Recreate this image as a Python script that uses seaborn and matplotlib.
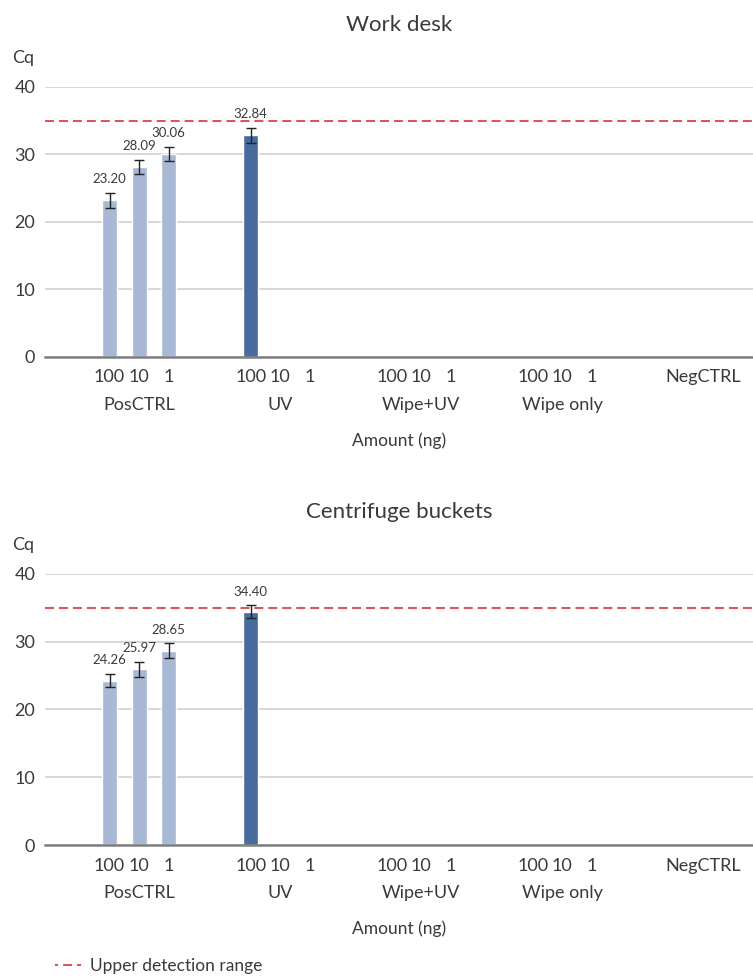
import numpy as np
import pandas as pd
import matplotlib
matplotlib.use("Agg")
import matplotlib.pyplot as plt
import seaborn as sns
from matplotlib.lines import Line2D

# ---- data (Cq values, NaN = no amplification) ----
GROUPS = ["PosCTRL", "UV", "Wipe+UV", "Wipe only", "NegCTRL"]
AMOUNTS = ["100", "10", "1"]
UPPER_DETECTION = 35

desk_posctrl = [23.20, 28.09, 30.06]
desk_posctrl_sd = [1.1, 1.05, 1.05]
desk_uv = [32.84, np.nan, np.nan]
desk_uv_sd = [1.1, np.nan, np.nan]

centrifuge_posctrl = [24.26, 25.97, 28.65]
centrifuge_posctrl_sd = [1.0, 1.1, 1.1]
centrifuge_uv = [34.40, np.nan, np.nan]
centrifuge_uv_sd = [0.95, np.nan, np.nan]

LIGHT = "#a9b8d4"
DARK = "#476b9c"
RED = "#d9575a"
TEXT = "#3a3a3a"

BAR_SPAN = 0.63  # width of one dodged cluster
SLOT = BAR_SPAN / len(AMOUNTS)

sns.set_theme(style="white")
plt.rcParams["font.family"] = ["Lato", "DejaVu Sans"]
plt.rcParams["text.color"] = TEXT
plt.rcParams["axes.labelcolor"] = TEXT
plt.rcParams["xtick.color"] = TEXT
plt.rcParams["ytick.color"] = TEXT


def make_frame(posctrl, posctrl_sd, uv, uv_sd):
    rows = []
    for a, v, s in zip(AMOUNTS, posctrl, posctrl_sd):
        rows.append(("PosCTRL", a, v, s))
    for a, v, s in zip(AMOUNTS, uv, uv_sd):
        rows.append(("UV", a, v, s))
    return pd.DataFrame(rows, columns=["group", "amount", "cq", "sd"])


def draw_panel(ax, df, title):
    for grp, col in [("PosCTRL", LIGHT), ("UV", DARK)]:
        sub = df[df["group"] == grp].dropna(subset=["cq"])
        sns.barplot(data=sub, x="group", y="cq", hue="amount",
                    order=GROUPS, hue_order=AMOUNTS,
                    palette={a: col for a in AMOUNTS}, saturation=1,
                    dodge=True, width=BAR_SPAN, gap=0.49, errorbar=None,
                    edgecolor="white", linewidth=1, legend=False,
                    zorder=2, ax=ax)

    # error bars + value labels, matched to the drawn bars
    for p in ax.patches:
        h = p.get_height()
        if not np.isfinite(h) or h <= 0:
            continue
        xc = p.get_x() + p.get_width() / 2
        gi = int(round(xc))
        ai = int(round((xc - gi) / SLOT)) + 1
        row = df[(df["group"] == GROUPS[gi]) & (df["amount"] == AMOUNTS[ai])].iloc[0]
        ax.errorbar(xc, row["cq"], yerr=row["sd"], fmt="none", ecolor="#222222",
                    elinewidth=1, capsize=3.5, capthick=1, zorder=3)
        ax.annotate(f"{row['cq']:.2f}", (xc, row["cq"] + row["sd"]),
                    xytext=(0, 10), textcoords="offset points",
                    ha="center", va="center", fontsize=9.5, color=TEXT)

    ax.axhline(UPPER_DETECTION, color=RED, lw=1.5, dashes=(4.3, 2.4), zorder=4)

    ax.set_ylim(0, 40)
    ax.set_xlim(-0.667, 4.35)
    ax.set_yticks([0, 10, 20, 30, 40])
    ax.yaxis.grid(True, color="#d4d4d4", lw=1.3, zorder=0)
    ax.set_axisbelow(True)
    for s in ["top", "right", "left"]:
        ax.spines[s].set_visible(False)
    ax.spines["bottom"].set_color("#7f7f7f")
    ax.spines["bottom"].set_linewidth(1.8)

    # two-level category axis: amounts on top row, treatment below
    minor_pos, minor_lab = [], []
    for gi in range(len(GROUPS) - 1):
        for ai, a in enumerate(AMOUNTS):
            minor_pos.append(gi + (ai - 1) * SLOT)
            minor_lab.append(a)
    minor_pos.append(len(GROUPS) - 1)
    minor_lab.append(GROUPS[-1])
    ax.xaxis.remove_overlapping_locs = False
    ax.set_xticks(range(len(GROUPS) - 1))
    ax.set_xticklabels(GROUPS[:-1])
    ax.set_xticks(minor_pos, minor=True)
    ax.set_xticklabels(minor_lab, minor=True)
    ax.tick_params(axis="x", which="major", length=0, pad=29, labelsize=13)
    ax.tick_params(axis="x", which="minor", length=0, pad=9, labelsize=13)
    ax.tick_params(axis="y", length=0, pad=7, labelsize=13)

    ax.set_xlabel("Amount (ng)", fontsize=12.5, labelpad=14)
    ax.set_ylabel("Cq", rotation=0, ha="left", va="center", fontsize=13)
    ax.yaxis.set_label_coords(-0.047, 1.107)
    ax.set_title(title, fontsize=16, pad=40, color=TEXT)


fig = plt.figure(figsize=(7.53, 9.77), dpi=100)
ax1 = fig.add_axes([0.0598, 0.6346, 0.940, 0.2764])
ax2 = fig.add_axes([0.0598, 0.1351, 0.940, 0.2774])

draw_panel(ax1, make_frame(desk_posctrl, desk_posctrl_sd, desk_uv, desk_uv_sd), "Work desk")
draw_panel(ax2, make_frame(centrifuge_posctrl, centrifuge_posctrl_sd,
                           centrifuge_uv, centrifuge_uv_sd), "Centrifuge buckets")

# legend sample: "- — -" (same dash pattern as the line, phase-shifted)
handle = Line2D([], [], color=RED, lw=1.5, linestyle=(2.8, (4.3, 2.4)))
fig.legend([handle], ["Upper detection range"], loc="center left",
           bbox_to_anchor=(0.062, 0.011), frameon=False, fontsize=12.5,
           handlelength=1.5, handletextpad=0.5, borderpad=0)

fig.savefig("out.png", dpi=100)
